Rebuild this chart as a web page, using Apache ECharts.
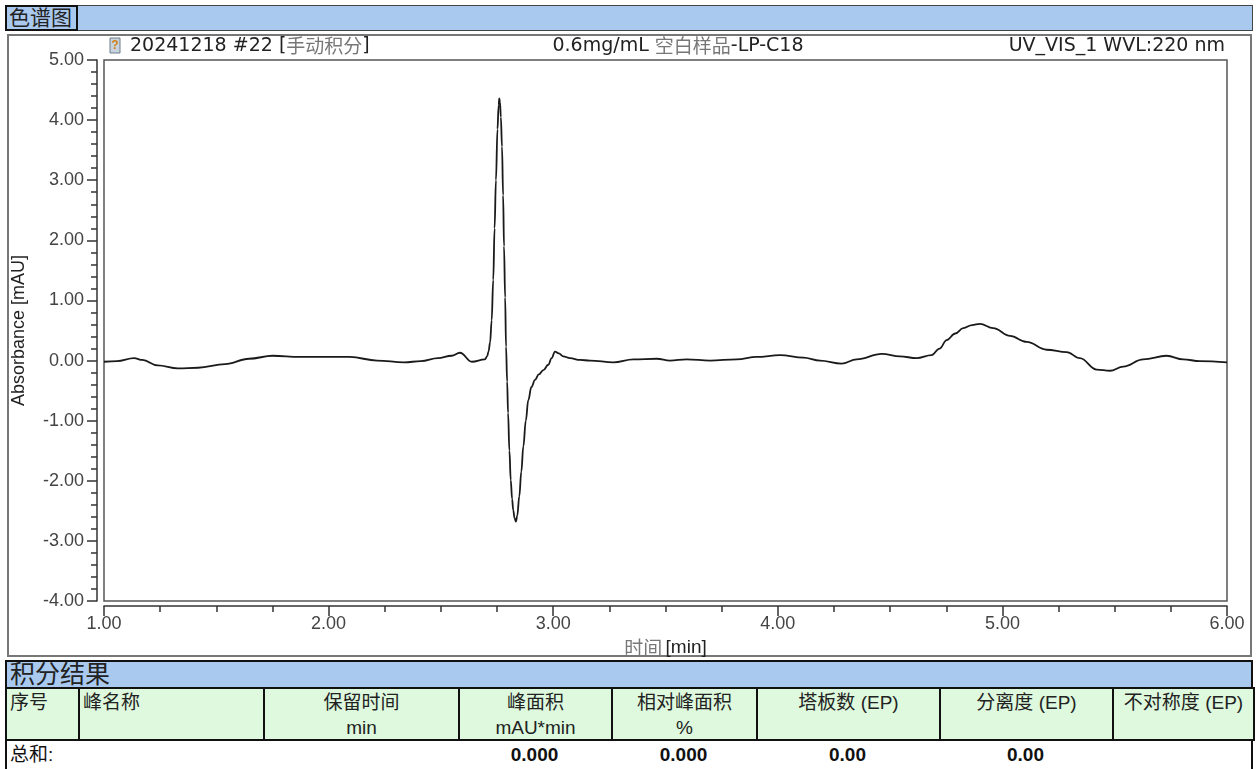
<!DOCTYPE html>
<html><head><meta charset="utf-8">
<script src="https://cdn.jsdelivr.net/npm/echarts@6/dist/echarts.min.js"></script>
<style>
body{margin:0;width:1258px;height:769px;position:relative;background:#fff;overflow:hidden;font-family:"Liberation Sans","Noto Sans CJK SC",sans-serif;color:#222}
#chart{position:absolute;left:0;top:0;width:1258px;height:769px;z-index:2}
.abs{position:absolute;box-sizing:border-box}
.cjk{font-family:"Liberation Sans","Noto Sans CJK SC",sans-serif}
</style></head><body>
<script>
// ---- data ----
const time = [1.000,1.058,1.134,1.171,1.239,1.329,1.419,1.539,1.646,1.751,1.871,2.095,2.216,2.336,2.411,2.487,2.548,2.585,2.638,2.696,2.706,2.712,2.719,2.726,2.733,2.739,2.745,2.752,2.757,2.760,2.763,2.767,2.772,2.777,2.781,2.786,2.790,2.795,2.799,2.805,2.811,2.817,2.822,2.828,2.834,2.840,2.849,2.858,2.867,2.878,2.889,2.903,2.919,2.936,2.956,2.978,2.993,3.008,3.025,3.045,3.075,3.119,3.164,3.268,3.357,3.461,3.520,3.594,3.698,3.817,3.906,4.010,4.114,4.188,4.284,4.351,4.463,4.544,4.618,4.685,4.720,4.752,4.790,4.826,4.865,4.900,4.959,5.034,5.108,5.197,5.286,5.345,5.420,5.479,5.538,5.627,5.731,5.805,5.879,6.000];
const absorbance = [-0.02,-0.01,0.04,0.01,-0.08,-0.13,-0.12,-0.06,0.03,0.08,0.06,0.06,0.00,-0.03,-0.01,0.04,0.08,0.13,-0.02,0.02,0.07,0.15,0.30,0.67,1.34,2.20,3.00,3.85,4.25,4.36,4.30,4.05,3.56,2.75,1.90,1.05,0.23,-0.35,-0.87,-1.50,-1.99,-2.30,-2.49,-2.62,-2.68,-2.58,-2.26,-1.85,-1.43,-1.00,-0.66,-0.44,-0.32,-0.23,-0.16,-0.07,0.04,0.15,0.12,0.07,0.04,0.01,0.00,-0.03,0.02,0.03,0.00,0.02,0.00,0.02,0.06,0.09,0.05,0.00,-0.05,0.02,0.11,0.07,0.04,0.09,0.20,0.34,0.45,0.54,0.59,0.61,0.54,0.41,0.31,0.18,0.14,0.04,-0.15,-0.17,-0.10,0.02,0.08,0.02,-0.01,-0.03];
const chartTitle = "色谱图";
const headerLeft = ["20241218 #22 [", "手动积分", "]"];
const headerMid = ["0.6mg/mL ", "空白样品", "-LP-C18"];
const headerRight = "UV_VIS_1 WVL:220 nm";
const yAxisName = "Absorbance [mAU]";
const xAxisName = ["时间", "[min]"];
const tableTitle = "积分结果";
const colHead1 = ["序号","峰名称","保留时间","峰面积","相对峰面积","塔板数 (EP)","分离度 (EP)","不对称度 (EP)"];
const colHead2 = ["","","min","mAU*min","%","","",""];
const totalRow = ["总和:","","","0.000","0.000","0.00","0.00",""];
</script>

<div class="abs" style="left:5px;top:5px;width:1248px;height:26px;background:#a9c9ee;border:1px solid #444"></div>
<div class="abs cjk" id="ttl" style="left:5px;top:5px;width:73px;height:26px;border:2px solid #111;font-size:21px;line-height:21px;padding-left:2px;color:#222;white-space:nowrap"></div>
<div class="abs" style="left:7px;top:34px;width:1245px;height:623px;border:2px solid #777"></div>
<div id="table"></div>
<div id="chart"></div>

<script>
document.getElementById('ttl').textContent = chartTitle;
// ---- table ----
const cols = [[5,78],[78,263],[263,458],[458,611],[611,756],[756,939],[939,1112],[1112,1253]];
let h = '';
h += '<div class="abs cjk" style="left:5px;top:660px;width:1248px;height:29px;background:#a9c9ee;border:2px solid #111;font-size:25px;line-height:25px;padding-left:3px;white-space:nowrap">'+tableTitle+'</div>';
h += '<div class="abs" style="left:5px;top:740px;width:1248px;height:30px;border-left:2px solid #111;border-right:2px solid #111;background:#fff"></div>';
cols.forEach((c,i)=>{
  const left = i<2;
  h += '<div class="abs cjk" style="left:'+c[0]+'px;top:687px;width:'+(c[1]-c[0]+2)+'px;height:54px;background:#def9dd;border:2px solid #111;font-size:19px;color:#222;text-align:'+(left?'left':'center')+';white-space:nowrap">'
    + '<div style="position:absolute;left:'+(left?3:0)+'px;right:0;top:2px;line-height:24px">'+colHead1[i]+'</div>'
    + '<div style="position:absolute;left:0;right:0;top:27px;line-height:24px">'+colHead2[i]+'</div></div>';
  if (totalRow[i]) {
    h += '<div class="abs cjk" style="left:'+c[0]+'px;top:742px;width:'+(c[1]-c[0])+'px;height:26px;font-size:19px;line-height:26px;color:#111;text-align:'+(left?'left':'center')+';padding-left:'+(left?5:0)+'px;font-weight:'+(i===0?'normal':'bold')+'">'+totalRow[i]+'</div>';
  }
});
document.getElementById('table').innerHTML = h;

// ---- chart ----
const chart = echarts.init(document.getElementById('chart'), null, {renderer:'canvas'});
const pts = time.map((t,i)=>[t, absorbance[i]]);
const fontLat = '"Liberation Sans", Arial, sans-serif';
const hdrLat = '19px "DejaVu Sans"';
const hdrCjk = '19px "Noto Sans CJK SC"';
chart.setOption({
  animation:false,
  backgroundColor:'transparent',
  grid:{left:104, top:60, width:1123, height:541, show:true, borderColor:'#555', borderWidth:1.5, containLabel:false},
  xAxis:{
    type:'value', min:1, max:6, interval:1, offset:5,
    axisLine:{show:true, onZero:false, lineStyle:{color:'#333', width:1.5}},
    axisTick:{show:true, length:10, lineStyle:{color:'#333', width:1.5}},
    minorTick:{show:true, splitNumber:4, length:6, lineStyle:{color:'#333', width:1.5}},
    splitLine:{show:false},
    axisLabel:{formatter:v=>v.toFixed(2), color:'#444', fontSize:18, fontFamily:fontLat, margin:9},
    name:'{a|'+xAxisName[0]+'} {b|'+xAxisName[1]+'}', nameLocation:'middle', nameGap:31,
    nameTextStyle:{rich:{a:{color:'#777', fontSize:19, fontFamily:'"Noto Sans CJK SC"'}, b:{color:'#222', fontSize:19, fontFamily:fontLat}}}
  },
  yAxis:{
    type:'value', min:-4, max:5, interval:1, offset:7,
    axisLine:{show:true, onZero:false, lineStyle:{color:'#333', width:1.5}},
    axisTick:{show:true, length:10, lineStyle:{color:'#333', width:1.5}},
    minorTick:{show:true, splitNumber:5, length:6, lineStyle:{color:'#333', width:1.5}},
    splitLine:{show:false},
    axisLabel:{formatter:v=>v.toFixed(2), color:'#444', fontSize:18, fontFamily:fontLat, margin:13},
    name:yAxisName, nameLocation:'middle', nameGap:69,
    nameTextStyle:{color:'#222', fontSize:18, fontFamily:fontLat}
  },
  graphic:[
    {type:'rect', shape:{x:110,y:38,width:10,height:15}, style:{fill:'#c9d3de', stroke:'#6c7c8c', lineWidth:1}, z:10},
    {type:'text', x:115, y:46, style:{text:'?', fill:'#d0801a', font:'bold 12px "Liberation Sans"', align:'center', verticalAlign:'middle'}, z:11},
    {type:'text', x:130, y:46, style:{text:'{d|'+headerLeft[0]+'}{g|'+headerLeft[1]+'}{d|'+headerLeft[2]+'}', verticalAlign:'middle',
      rich:{d:{fill:'#222', font:hdrLat}, g:{fill:'#777', font:hdrCjk}}}},
    {type:'text', x:678, y:46, style:{text:'{d|'+headerMid[0]+'}{g|'+headerMid[1]+'}{d|'+headerMid[2]+'}', align:'center', verticalAlign:'middle',
      rich:{d:{fill:'#222', font:hdrLat}, g:{fill:'#777', font:hdrCjk}}}},
    {type:'text', x:1225, y:46, style:{text:headerRight, fill:'#222', font:hdrLat, align:'right', verticalAlign:'middle'}}
  ],
  series:[{
    type:'line', data:pts, showSymbol:false, smooth:0.4, smoothMonotone:'x', silent:true,
    lineStyle:{color:'#1a1a1a', width:1.8}
  }]
});
</script>
</body></html>
